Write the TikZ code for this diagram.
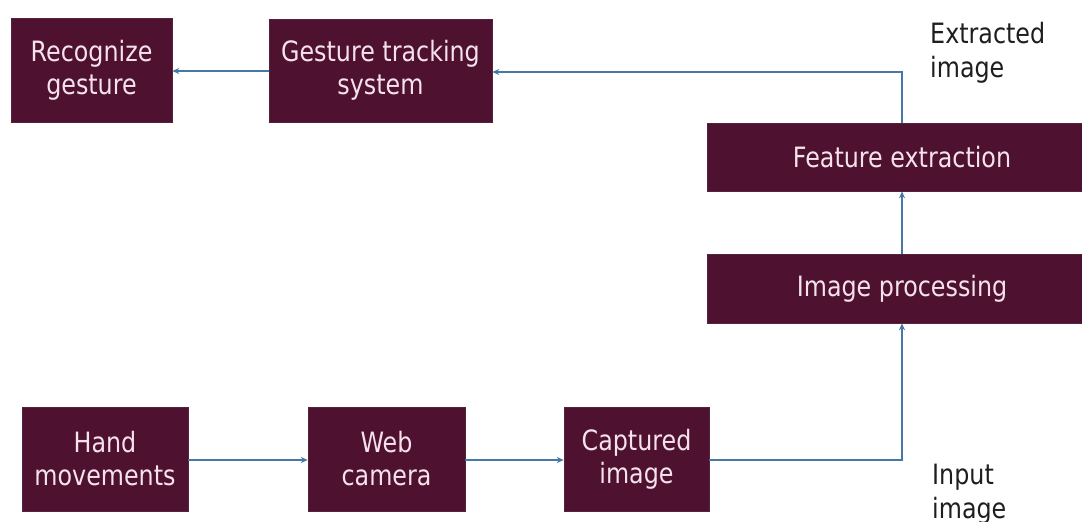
\documentclass[tikz,border=0pt]{standalone}
\usepackage{fontspec}
\setmainfont{DejaVu Sans}[FakeStretch=0.85]
\usetikzlibrary{arrows.meta}
\definecolor{boxfill}{RGB}{78,18,48}
\definecolor{boxtext}{RGB}{245,226,236}
\definecolor{linkblue}{RGB}{70,120,165}
\definecolor{labeltext}{RGB}{30,30,30}
\tikzset{
  box/.style={rectangle, fill=boxfill, draw=boxfill!85!gray, line width=0.6pt, text=boxtext, align=center, inner sep=0pt,
    font=\fontsize{28}{33}\selectfont},
  link/.style={draw=linkblue, line width=1.2pt, -{Stealth[length=7pt,width=6pt]}},
  lbl/.style={anchor=north west, inner sep=0pt, align=left, text=labeltext, font=\fontsize{28}{34}\selectfont}
}
\begin{document}
\begin{tikzpicture}[x=1pt,y=-1pt]
\useasboundingbox (0,0) rectangle (1082,522);
\node[box, minimum width=161pt, minimum height=104pt] (rec) at (91.5,70) {Recognize\\gesture};
\node[box, minimum width=223pt, minimum height=103pt] (gts) at (380.5,70.5) {Gesture tracking\\system};
\node[box, minimum width=390pt, minimum height=68pt] (fe) at (902,157) {Feature extraction};
\node[box, minimum width=390pt, minimum height=69pt] (ip) at (902,288.5) {Image processing};
\node[box, minimum width=166pt, minimum height=104pt] (hand) at (105,459) {Hand\\movements};
\node[box, minimum width=157pt, minimum height=104pt] (web) at (386.5,459) {Web\\camera};
\node[box, minimum width=145pt, minimum height=104pt] (cap) at (636.5,459) {Captured\\image};
\node[lbl] (ext) at (930,22) {Extracted\\image};
\node[lbl] (inp) at (932,464) {Input\\image};
\coordinate (top) at (902,72);
\coordinate (bot) at (902,460);
\draw[link] (gts.west |- 0,71) -- (rec.east |- 0,71);
\draw[link] (fe.north) -- (top) -- (gts.east |- top);
\draw[link] (ip.north) -- (fe.south);
\draw[link] (cap.east |- bot) -- (bot) -- (ip.south);
\draw[link] (hand.east |- bot) -- (web.west |- bot);
\draw[link] (web.east |- bot) -- (cap.west |- bot);
\end{tikzpicture}
\end{document}
